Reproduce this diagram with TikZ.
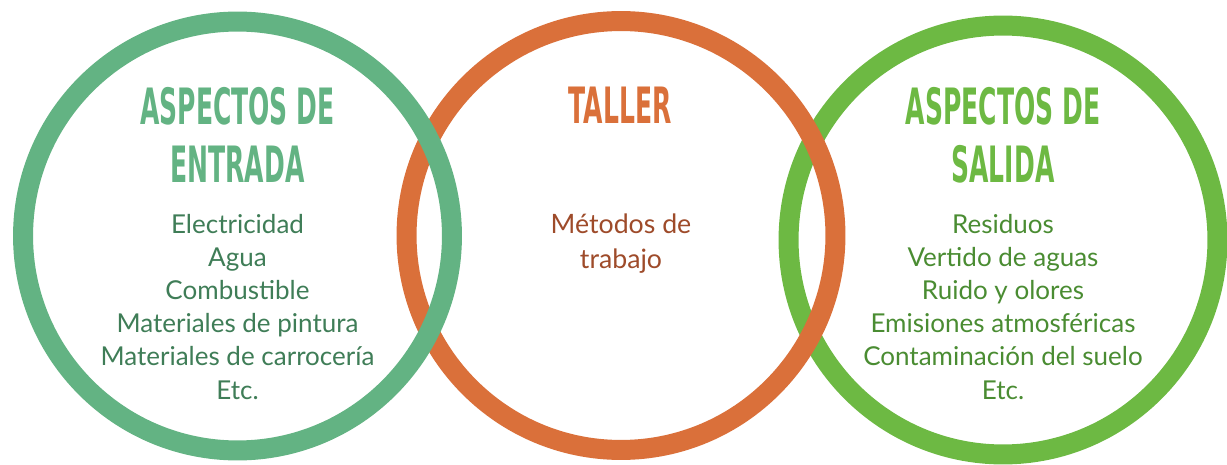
\documentclass[tikz,border=0pt]{standalone}
\usepackage{fontspec}
\setmainfont{Lato}
\newfontfamily\headfont[FakeStretch=0.5]{DejaVu Sans}
\definecolor{lgreen}{HTML}{63B383}
\definecolor{orng}{HTML}{DA703A}
\definecolor{rgreen}{HTML}{6DB943}
\definecolor{ltext}{HTML}{3F7D57}
\definecolor{mtext}{HTML}{9E4B2A}
\definecolor{rtext}{HTML}{4A8C32}
\tikzset{
  ring/.style={line width=0.4cm},
  headtxt/.style={anchor=base, inner sep=0pt, align=center, font=\headfont\bfseries\fontsize{28.5}{33}\selectfont},
  bodytxt/.style={anchor=base, inner sep=0pt, align=center, font=\fontsize{14.8}{18.8}\selectfont},
}
\begin{document}
\begin{tikzpicture}[x=0.02cm,y=0.02cm]
\useasboundingbox (0,0) rectangle (1227,464);
\coordinate (L) at (237.5,228);
\coordinate (M) at (621,228.5);
\coordinate (R) at (1003,224);
% rings: right below middle, middle below left
\draw[ring,rgreen] (R) circle[radius=4.29cm];
\draw[ring,orng] (M) circle[radius=4.29cm];
\draw[ring,lgreen] (L) circle[radius=4.29cm];
% headings (anchor = baseline of last line)
\node[headtxt,text=lgreen] (hl) at (237.5,282) {ASPECTOS DE\\ENTRADA};
\node[headtxt,text=orng] (hm) at (620,340) {TALLER};
\node[headtxt,text=rgreen] (hr) at (1003,282) {ASPECTOS DE\\SALIDA};
% bodies
\node[bodytxt,text=ltext] (bl) at (237.5,65) {Electricidad\\Agua\\Combustible\\Materiales de pintura\\Materiales de carrocería\\Etc.};
\node[bodytxt,text=mtext,font=\fontsize{15.2}{19.9}\selectfont] (bm) at (621,196) {Métodos de\\trabajo};
\node[bodytxt,text=rtext] (br) at (1003,65) {Residuos\\Vertido de aguas\\Ruido y olores\\Emisiones atmosféricas\\Contaminación del suelo\\Etc.};
\end{tikzpicture}
\end{document}
